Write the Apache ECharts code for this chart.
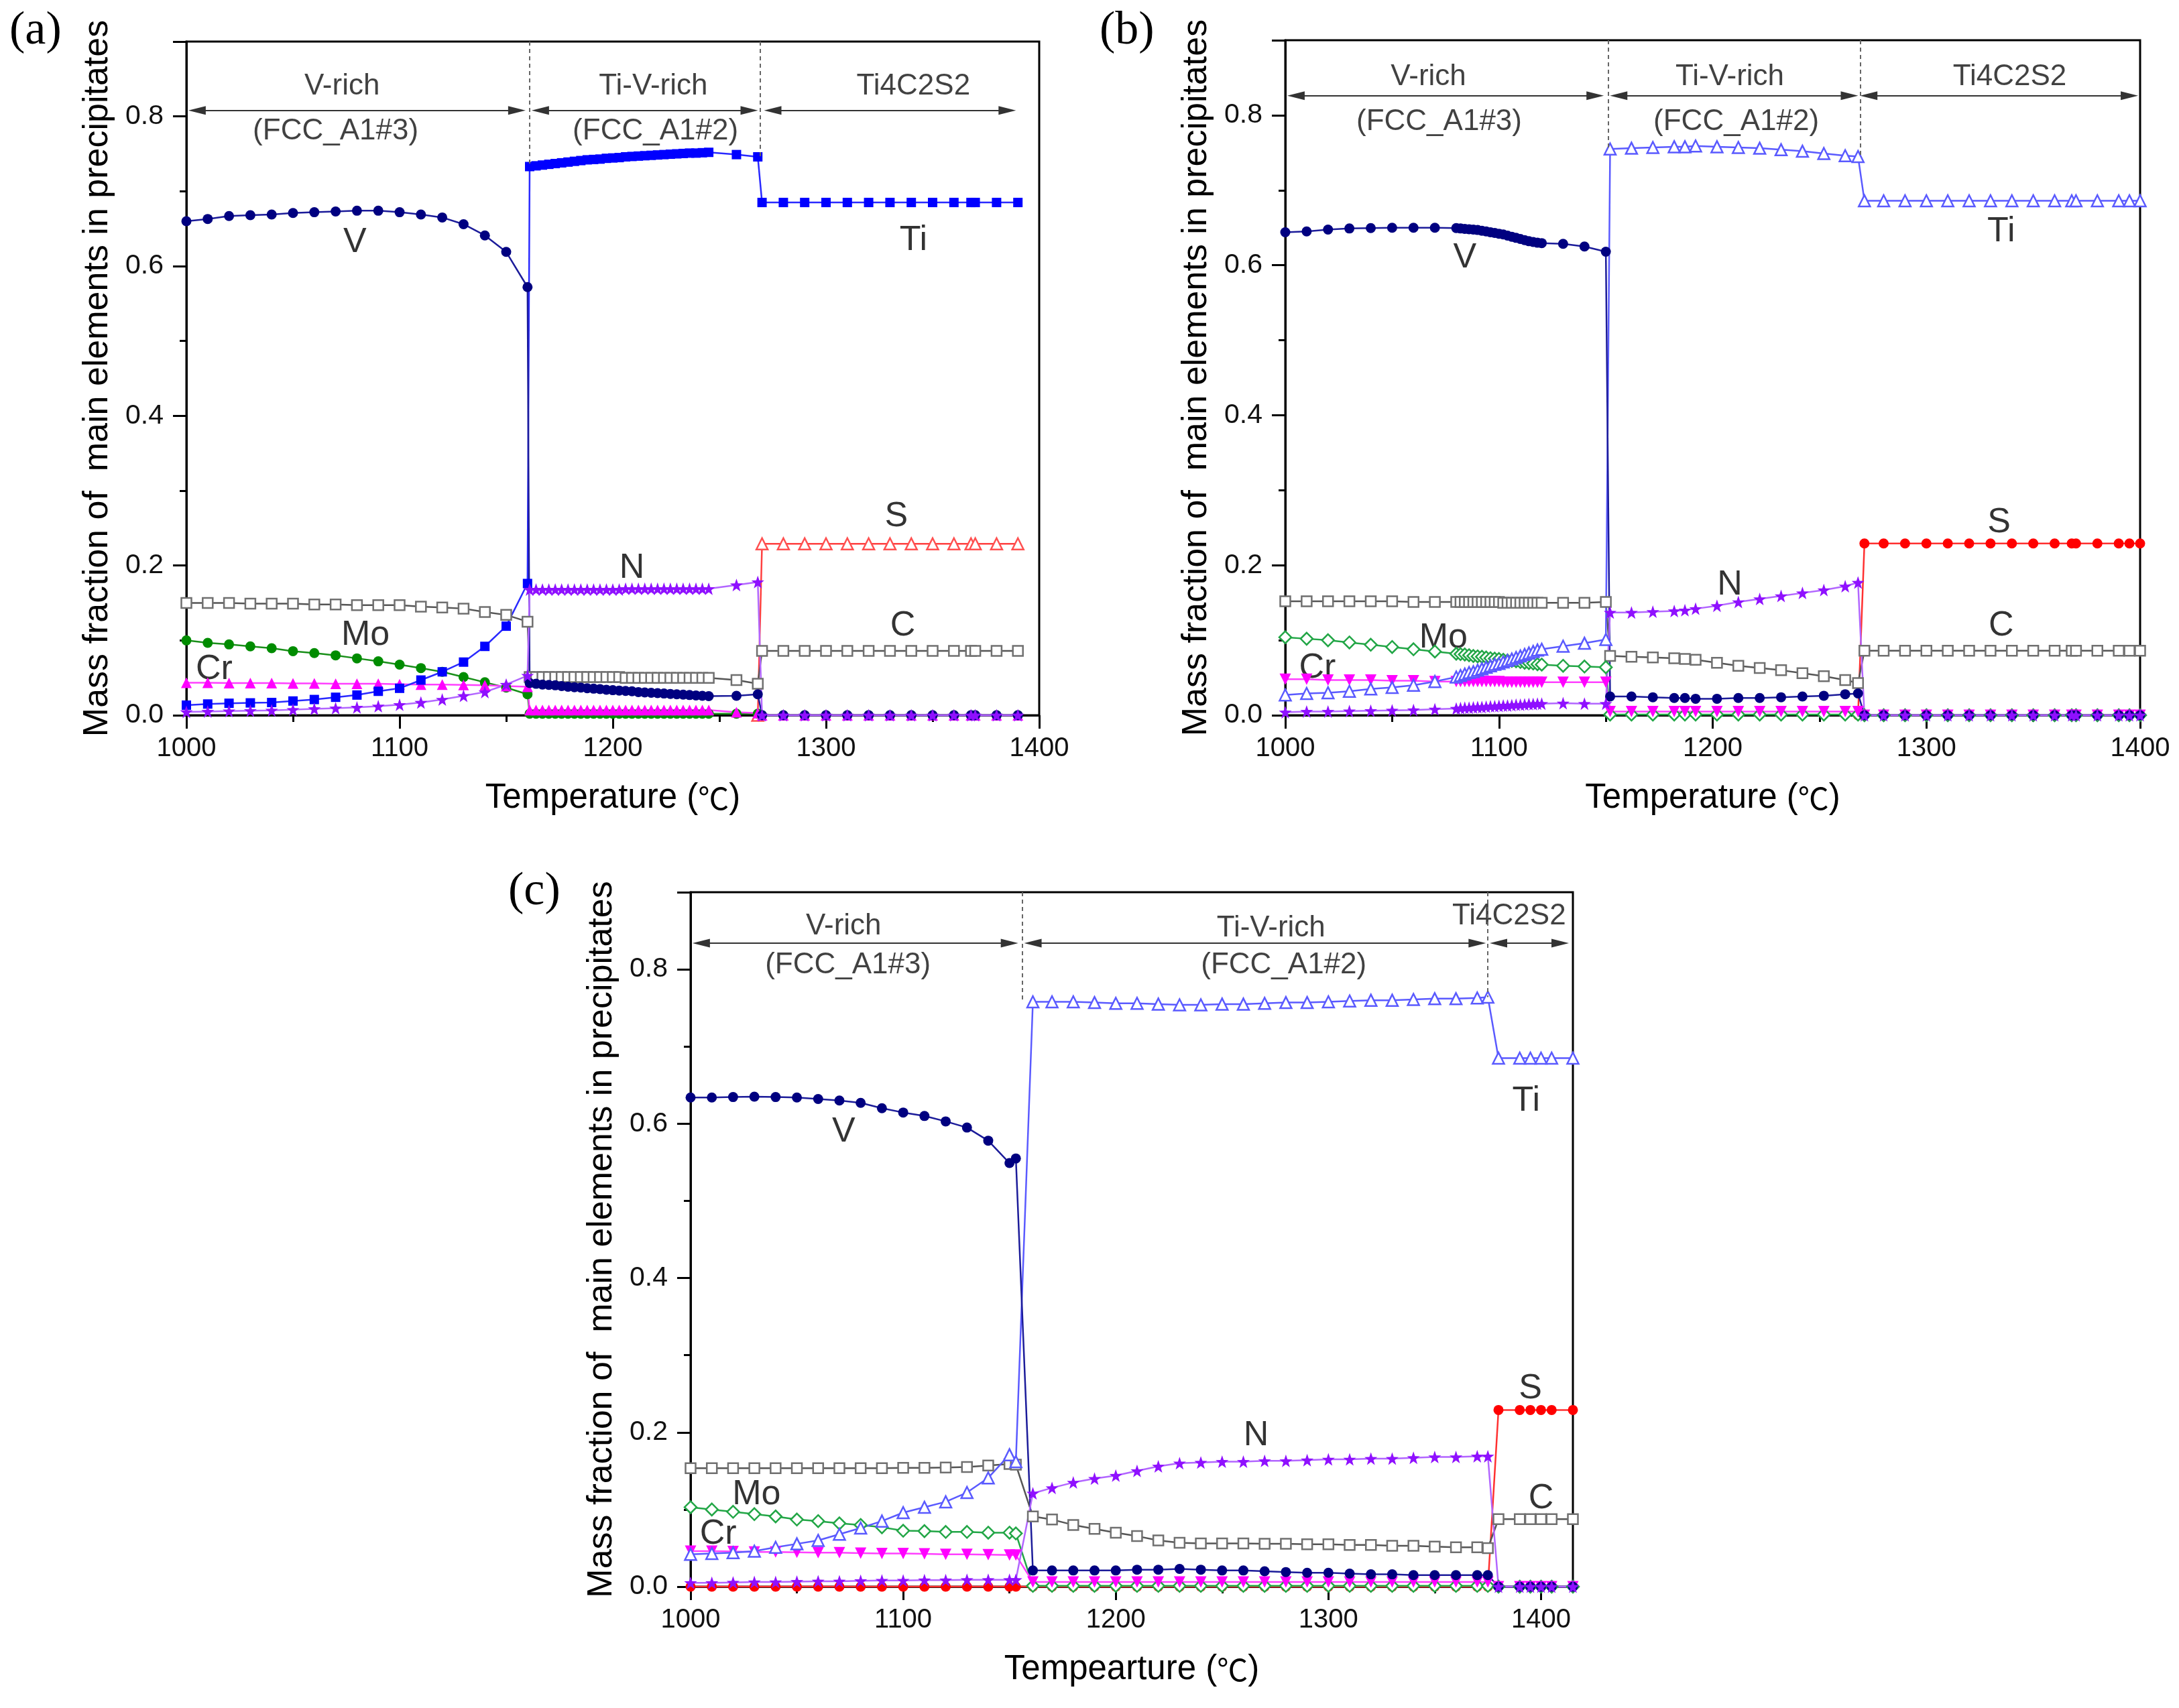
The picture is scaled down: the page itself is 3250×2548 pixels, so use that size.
<!DOCTYPE html>
<html>
<head>
<meta charset="utf-8">
<title>Mass fraction of main elements in precipitates</title>
<script src="https://cdn.jsdelivr.net/npm/echarts@6.0.0/dist/echarts.min.js"></script>
<style>
  html, body { margin: 0; padding: 0; background: #fff; }
  #chart { width: 3250px; height: 2548px; }
</style>
</head>
<body>
<div id="chart"></div>
<script>
// ---------- panel (a) ----------
var tempA = [1000,1010,1020,1030,1040,1050,1060,1070,1080,1090,1100,1110,1120,1130,1140,1150,1160,
  1161,1164,1167,1170,1173,1176,1179,1182,1185,1188,1191,1194,1197,1200,1203,1206,1209,1212,1215,1218,1221,1224,1227,1230,1233,1236,1239,1242,1245,
  1258,1268,
  1270,1280,1290,1300,1310,1320,1330,1340,1350,1360,1368,1370,1380,1390];
var vA = [0.660,0.663,0.667,0.668,0.669,0.671,0.672,0.673,0.674,0.674,0.672,0.669,0.665,0.656,0.641,0.619,0.572,
  0.043,0.042,0.041,0.0405,0.040,0.039,0.038,0.0375,0.037,0.036,0.0355,0.035,0.034,0.0335,0.033,0.0325,0.032,0.031,0.0305,0.030,0.0295,0.029,0.0285,0.028,0.0275,0.027,0.0265,0.026,0.0255,
  0.026,0.028,
  0,0,0,0,0,0,0,0,0,0,0,0,0,0];
var tiA = [0.0135,0.015,0.016,0.0165,0.017,0.019,0.021,0.024,0.027,0.032,0.036,0.047,0.058,0.071,0.092,0.119,0.176,
  0.733,0.734,0.735,0.736,0.737,0.738,0.739,0.740,0.741,0.742,0.7425,0.743,0.744,0.7445,0.745,0.746,0.7465,0.747,0.7475,0.748,0.7485,0.749,0.7495,0.750,0.7505,0.751,0.751,0.7515,0.752,
  0.749,0.746,
  0.685,0.685,0.685,0.685,0.685,0.685,0.685,0.685,0.685,0.685,0.685,0.685,0.685,0.685];
var nA = [0.0045,0.005,0.0055,0.006,0.0065,0.0075,0.0085,0.0095,0.0105,0.012,0.014,0.017,0.021,0.026,0.031,0.041,0.053,
  0.168,0.168,0.168,0.168,0.168,0.168,0.168,0.168,0.168,0.168,0.168,0.168,0.168,0.168,0.168,0.169,0.169,0.169,0.169,0.169,0.169,0.169,0.169,0.169,0.169,0.169,0.169,0.169,0.169,
  0.174,0.178,
  0,0,0,0,0,0,0,0,0,0,0,0,0,0];
var cA = [0.150,0.150,0.150,0.149,0.149,0.149,0.148,0.148,0.147,0.147,0.147,0.145,0.144,0.1425,0.138,0.134,0.125,
  0.051,0.051,0.051,0.051,0.051,0.051,0.051,0.051,0.051,0.051,0.051,0.051,0.051,0.051,0.051,0.050,0.050,0.050,0.050,0.050,0.050,0.050,0.050,0.050,0.050,0.050,0.050,0.050,0.050,
  0.047,0.042,
  0.086,0.086,0.086,0.086,0.086,0.086,0.086,0.086,0.086,0.086,0.086,0.086,0.086,0.086];
var moA = [0.100,0.0967,0.0946,0.092,0.0895,0.0856,0.083,0.080,0.076,0.072,0.0676,0.063,0.058,0.051,0.044,0.037,0.028,
  0.002,0.002,0.002,0.002,0.002,0.002,0.002,0.002,0.002,0.002,0.002,0.002,0.002,0.002,0.002,0.002,0.002,0.002,0.002,0.002,0.002,0.002,0.002,0.002,0.002,0.002,0.002,0.002,0.002,
  0.002,0.002,
  0,0,0,0,0,0,0,0,0,0,0,0,0,0];
var crA = [0.0435,0.0435,0.043,0.043,0.043,0.0425,0.0425,0.042,0.042,0.042,0.0415,0.041,0.041,0.0405,0.040,0.039,0.038,
  0.007,0.007,0.007,0.007,0.007,0.007,0.007,0.007,0.007,0.007,0.007,0.007,0.007,0.007,0.007,0.007,0.007,0.007,0.007,0.007,0.007,0.007,0.007,0.007,0.007,0.007,0.007,0.007,0.007,
  0.004,0.003,
  0,0,0,0,0,0,0,0,0,0,0,0,0,0];
var sA = [null,null,null,null,null,null,null,null,null,null,null,null,null,null,null,null,null,
  null,null,null,null,null,null,null,null,null,null,null,null,null,null,null,null,null,null,null,null,null,null,null,null,null,null,null,null,null,
  null,0,
  0.229,0.229,0.229,0.229,0.229,0.229,0.229,0.229,0.229,0.229,0.229,0.229,0.229,0.229];

// ---------- panel (b) ----------
var tempB = [1000,1010,1020,1030,1040,1050,1060,1070,1080,
  1082,1084,1086,1088,1090,1092,1094,1096,1098,1100,1102,1104,1106,1108,1110,1112,1114,1116,1118,1120,
  1130,1140,1150,
  1152,1162,1172,1182,1187,1192,1202,1212,1222,1232,1242,1252,1262,1268,
  1271,1280,1290,1300,1310,1320,1330,1340,1350,1360,1368,1370,1380,1390,1395,1400];
var vB = [0.644,0.645,0.6475,0.649,0.6495,0.650,0.650,0.650,0.6495,
  0.649,0.6485,0.648,0.6475,0.647,0.646,0.645,0.644,0.643,0.642,0.641,0.6395,0.638,0.6365,0.635,0.6335,0.632,0.631,0.630,0.6295,
  0.6285,0.625,0.618,
  0.025,0.025,0.024,0.023,0.023,0.022,0.022,0.023,0.023,0.024,0.025,0.026,0.028,0.029,
  0,0,0,0,0,0,0,0,0,0,0,0,0,0,0,0];
var tiB = [0.027,0.029,0.030,0.032,0.035,0.037,0.040,0.045,0.051,
  0.053,0.055,0.057,0.058,0.060,0.062,0.064,0.066,0.068,0.069,0.071,0.073,0.075,0.077,0.079,0.081,0.083,0.085,0.087,0.088,
  0.092,0.096,0.101,
  0.755,0.756,0.757,0.758,0.758,0.759,0.758,0.757,0.756,0.754,0.752,0.749,0.746,0.745,
  0.686,0.686,0.686,0.686,0.686,0.686,0.686,0.686,0.686,0.686,0.686,0.686,0.686,0.686,0.686,0.686];
var nB = [0.004,0.005,0.005,0.0055,0.006,0.0065,0.007,0.008,0.009,
  0.0095,0.010,0.010,0.0105,0.011,0.011,0.0115,0.012,0.012,0.0125,0.013,0.013,0.0135,0.014,0.014,0.0145,0.015,0.015,0.0155,0.0155,
  0.016,0.0155,0.0155,
  0.137,0.137,0.138,0.139,0.140,0.142,0.146,0.151,0.155,0.159,0.163,0.167,0.172,0.177,
  0,0,0,0,0,0,0,0,0,0,0,0,0,0,0,0];
var cB = [0.152,0.152,0.152,0.152,0.152,0.152,0.151,0.151,0.151,
  0.151,0.151,0.151,0.151,0.151,0.151,0.151,0.151,0.151,0.151,0.150,0.150,0.150,0.150,0.150,0.150,0.150,0.150,0.150,0.150,
  0.150,0.150,0.151,
  0.079,0.078,0.077,0.076,0.075,0.074,0.070,0.066,0.063,0.060,0.056,0.052,0.047,0.043,
  0.086,0.086,0.086,0.086,0.086,0.086,0.086,0.086,0.086,0.086,0.086,0.086,0.086,0.086,0.086,0.086];
var moB = [0.104,0.102,0.100,0.097,0.094,0.091,0.088,0.085,0.082,
  0.0815,0.081,0.080,0.079,0.0785,0.078,0.077,0.076,0.0755,0.075,0.074,0.073,0.0725,0.072,0.071,0.070,0.0695,0.069,0.068,0.0675,
  0.066,0.065,0.064,
  0.001,0.001,0.001,0.001,0.001,0.001,0.001,0.001,0.001,0.001,0.001,0.001,0.001,0.001,
  0,0,0,0,0,0,0,0,0,0,0,0,0,0,0,0];
var crB = [0.048,0.048,0.047,0.047,0.047,0.046,0.046,0.045,0.045,
  0.045,0.045,0.045,0.045,0.045,0.045,0.045,0.045,0.045,0.045,0.044,0.044,0.044,0.044,0.044,0.044,0.044,0.044,0.044,0.044,
  0.044,0.044,0.044,
  0.005,0.005,0.005,0.005,0.005,0.005,0.005,0.005,0.005,0.005,0.005,0.005,0.005,0.005,
  0,0,0,0,0,0,0,0,0,0,0,0,0,0,0,0];
var sB = [null,null,null,null,null,null,null,null,null,
  null,null,null,null,null,null,null,null,null,null,null,null,null,null,null,null,null,null,null,null,
  null,null,null,
  null,null,null,null,null,null,null,null,null,null,null,null,null,0,
  0.229,0.229,0.229,0.229,0.229,0.229,0.229,0.229,0.229,0.229,0.229,0.229,0.229,0.229,0.229,0.229];

// ---------- panel (c) ----------
var tempC = [1000,1010,1020,1030,1040,1050,1060,1070,1080,1090,1100,1110,1120,1130,1140,1150,1153,
  1161,1170,1180,1190,1200,1210,1220,1230,1240,1250,1260,1270,1280,1290,1300,1310,1320,1330,1340,1350,1360,1370,1375,
  1380,1390,1395,1400,1405,1415];
var vC = [0.634,0.634,0.6345,0.635,0.6345,0.634,0.632,0.630,0.627,0.620,0.6145,0.610,0.603,0.595,0.578,0.549,0.555,
  0.021,0.021,0.021,0.021,0.021,0.022,0.022,0.023,0.022,0.021,0.021,0.020,0.019,0.018,0.018,0.017,0.016,0.016,0.015,0.015,0.015,0.015,0.015,
  0,0,0,0,0,0];
var tiC = [0.042,0.043,0.044,0.046,0.051,0.0555,0.060,0.068,0.076,0.085,0.096,0.103,0.110,0.122,0.141,0.171,0.162,
  0.758,0.758,0.758,0.757,0.756,0.756,0.755,0.754,0.754,0.755,0.755,0.756,0.757,0.757,0.758,0.759,0.760,0.760,0.761,0.762,0.762,0.763,0.764,
  0.685,0.685,0.685,0.685,0.685,0.685];
var nC = [0.005,0.005,0.0055,0.006,0.006,0.0065,0.007,0.007,0.0075,0.008,0.008,0.0085,0.0085,0.009,0.009,0.009,0.009,
  0.121,0.128,0.135,0.140,0.144,0.150,0.156,0.160,0.161,0.162,0.162,0.163,0.163,0.164,0.165,0.165,0.166,0.166,0.167,0.168,0.168,0.169,0.169,
  0,0,0,0,0,0];
var cC = [0.1535,0.1535,0.1535,0.1535,0.1535,0.1535,0.1535,0.1535,0.1535,0.1535,0.154,0.154,0.1545,0.155,0.157,0.159,0.158,
  0.091,0.087,0.080,0.075,0.070,0.0655,0.060,0.057,0.056,0.056,0.056,0.0555,0.0555,0.055,0.055,0.054,0.054,0.053,0.053,0.052,0.051,0.051,0.050,
  0.0875,0.0875,0.0875,0.0875,0.0875,0.0875];
var moC = [0.103,0.100,0.097,0.094,0.091,0.087,0.085,0.082,0.080,0.077,0.0725,0.072,0.071,0.071,0.070,0.070,0.069,
  0.001,0.001,0.001,0.001,0.001,0.001,0.001,0.001,0.001,0.001,0.001,0.001,0.001,0.001,0.001,0.001,0.001,0.001,0.001,0.001,0.001,0.001,0.001,
  0,0,0,0,0,0];
var crC = [0.046,0.046,0.0455,0.045,0.045,0.0445,0.044,0.044,0.0435,0.043,0.043,0.0425,0.042,0.042,0.0415,0.041,0.041,
  0.006,0.006,0.006,0.006,0.006,0.006,0.006,0.006,0.006,0.006,0.006,0.006,0.006,0.006,0.006,0.006,0.006,0.006,0.006,0.006,0.006,0.006,0.006,
  0,0,0,0,0,0];
var sC = [0,0,0,0,0,0,0,0,0,0,0,0,0,0,0,0,0,
  0,0,0,0,0,0,0,0,0,0,0,0,0,0,0,0,0,0,0,0,0,0,0,
  0.229,0.229,0.229,0.229,0.229,0.229];

// ---------- ticks, titles, annotations ----------
var xMax = [1400, 1400, 1415];
var xMajorTicks = [1000, 1100, 1200, 1300, 1400];
var xMinorTicks = [1050, 1150, 1250, 1350];
var yMajorTicks = [0, 0.2, 0.4, 0.6, 0.8, 0.9];
var yLabelTicks = [0, 0.2, 0.4, 0.6, 0.8];
var yMinorTicks = [0.1, 0.3, 0.5, 0.7];
var yTitle = 'Mass fraction of  main elements in precipitates';
var xTitles = ['Temperature ({deg|\u2103})', 'Temperature ({deg|\u2103})', 'Tempearture ({deg|\u2103})'];
var panelLetters = ['(a)', '(b)', '(c)'];

var phaseTextA = [['V-rich', 1073, 0.840], ['(FCC_A1#3)', 1070, 0.780], ['Ti-V-rich', 1219, 0.840], ['(FCC_A1#2)', 1220, 0.780], ['Ti4C2S2', 1341, 0.840]];
var phaseTextB = [['V-rich', 1067, 0.851], ['(FCC_A1#3)', 1072, 0.791], ['Ti-V-rich', 1208, 0.851], ['(FCC_A1#2)', 1211, 0.791], ['Ti4C2S2', 1339, 0.851]];
var phaseTextC = [['V-rich', 1072, 0.856], ['(FCC_A1#3)', 1074, 0.805], ['Ti-V-rich', 1273, 0.853], ['(FCC_A1#2)', 1279, 0.805], ['Ti4C2S2', 1385, 0.869]];
var arrowsA = [[1001, 1159], [1162, 1268], [1271, 1389]], arrowYA = 0.808;
var arrowsB = [[1001, 1149], [1152, 1268], [1269, 1399]], arrowYB = 0.826;
var arrowsC = [[1001, 1154], [1157, 1374], [1376, 1413]], arrowYC = 0.834;
var dashA = [[1161, 0.733], [1269, 0.746]];
var dashB = [[1151, 0.755], [1269, 0.745]];
var dashC = [[1156, 0.758], [1375, 0.764]];
var elemA = [['V', 1079, 0.632], ['Ti', 1341, 0.634], ['S', 1333, 0.265], ['N', 1209, 0.196], ['C', 1336, 0.119], ['Mo', 1084, 0.107], ['Cr', 1013, 0.061]];
var elemB = [['V', 1084, 0.610], ['Ti', 1335, 0.645], ['S', 1334, 0.257], ['N', 1208, 0.174], ['C', 1335, 0.119], ['Mo', 1074, 0.103], ['Cr', 1015, 0.063]];
var elemC = [['V', 1072, 0.589], ['Ti', 1393, 0.629], ['S', 1395, 0.257], ['N', 1266, 0.196], ['C', 1400, 0.114], ['Mo', 1031, 0.119], ['Cr', 1013, 0.068]];

// ---------- layout / styles ----------
var FONT = '"Liberation Sans", Arial, Helvetica, "Noto Sans CJK SC", sans-serif';
var STAR = 'path://M0,-10L2.35,-3.24L9.51,-3.09L3.8,1.24L5.88,8.09L0,4L-5.88,8.09L-3.8,1.24L-9.51,-3.09L-2.35,-3.24Z';
var grids = [
  {left: 278, top: 62, width: 1272, height: 1005},
  {left: 1917, top: 60, width: 1275, height: 1007},
  {left: 1030, top: 1331, width: 1316, height: 1036}
];
var letterPos = [[14, 12], [1640, 12], [758, 1296]];

function pairs(t, v) {
  var out = [];
  for (var i = 0; i < t.length; i++) {
    if (v[i] !== null) out.push([t[i], v[i]]);
  }
  return out;
}

function lineSeries(p, name, temps, vals, st) {
  return {
    name: name, type: 'line', xAxisIndex: 2 * p, yAxisIndex: 2 * p,
    data: pairs(temps, vals),
    symbol: st.symbol, symbolSize: st.size, symbolRotate: st.rotate || 0,
    showSymbol: true, showAllSymbol: true, clip: false,
    animation: false, silent: true,
    lineStyle: {color: st.line, width: 2.5},
    itemStyle: st.hollow
      ? {color: '#ffffff', borderColor: st.color, borderWidth: 2.5}
      : {color: st.color, borderWidth: 0},
    emphasis: {disabled: true}
  };
}

var styleV = {symbol: 'circle', size: 15, color: '#000080', line: '#1c1c9a'};
var styleN = {symbol: STAR, size: 19, color: '#8f10ff', line: '#b266ff'};
var styleC = {symbol: 'rect', size: 15, color: '#707070', line: '#555555', hollow: true};
var stylesA = {
  Ti: {symbol: 'rect', size: 14, color: '#0000ff', line: '#2a2aff'},
  S: {symbol: 'triangle', size: 17, color: '#ff5050', line: '#ff4040', hollow: true},
  Mo: {symbol: 'circle', size: 15, color: '#008c00', line: '#1a8f1a'},
  Cr: {symbol: 'triangle', size: 16, color: '#ff00ff', line: '#ff40ff'}
};
var stylesBC = {
  Ti: {symbol: 'triangle', size: 17, color: '#5a5aff', line: '#5a5aff', hollow: true},
  S: {symbol: 'circle', size: 15, color: '#ff0000', line: '#ff3030'},
  Mo: {symbol: 'diamond', size: 18, color: '#22a646', line: '#22a646', hollow: true},
  Cr: {symbol: 'triangle', size: 17, color: '#ff00ff', line: '#ff40ff', rotate: 180}
};

var panels = [
  {t: tempA, V: vA, Ti: tiA, N: nA, C: cA, Mo: moA, Cr: crA, S: sA, st: stylesA,
   phase: phaseTextA, arrows: arrowsA, arrowY: arrowYA, dash: dashA, elem: elemA},
  {t: tempB, V: vB, Ti: tiB, N: nB, C: cB, Mo: moB, Cr: crB, S: sB, st: stylesBC,
   phase: phaseTextB, arrows: arrowsB, arrowY: arrowYB, dash: dashB, elem: elemB},
  {t: tempC, V: vC, Ti: tiC, N: nC, C: cC, Mo: moC, Cr: crC, S: sC, st: stylesBC,
   phase: phaseTextC, arrows: arrowsC, arrowY: arrowYC, dash: dashC, elem: elemC}
];

var xAxes = [], yAxes = [], series = [], graphics = [];

panels.forEach(function (pd, p) {
  xAxes.push({
    type: 'value', gridIndex: p, position: 'bottom', min: 1000, max: xMax[p], interval: 100,
    axisLine: {show: true, onZero: false, lineStyle: {color: '#000', width: 3}},
    axisTick: {show: true, inside: false, length: 20, customValues: xMajorTicks, lineStyle: {color: '#000', width: 3}},
    axisLabel: {customValues: xMajorTicks, margin: 30, color: '#111', fontSize: 40, fontFamily: FONT,
      formatter: function (v) { return v % 100 === 0 ? String(v) : ''; }},
    splitLine: {show: false},
    name: xTitles[p], nameLocation: 'middle', nameGap: 98,
    nameTextStyle: {color: '#000', fontSize: 51, fontFamily: FONT,
      rich: {deg: {fontSize: 46, fontFamily: '"Noto Sans CJK SC", sans-serif', color: '#000'}}}
  });
  xAxes.push({
    type: 'value', gridIndex: p, position: 'bottom', min: 1000, max: xMax[p], interval: 100,
    axisLine: {show: false, onZero: false},
    axisTick: {show: true, inside: false, length: 10, customValues: xMinorTicks, lineStyle: {color: '#000', width: 3}},
    axisLabel: {show: false}, splitLine: {show: false}
  });
  yAxes.push({
    type: 'value', gridIndex: p, position: 'left', min: 0, max: 0.9, interval: 0.2,
    axisLine: {show: true, onZero: false, lineStyle: {color: '#000', width: 3}},
    axisTick: {show: true, inside: false, length: 20, customValues: yMajorTicks, lineStyle: {color: '#000', width: 3}},
    axisLabel: {customValues: yLabelTicks, margin: 34, color: '#111', fontSize: 41, fontFamily: FONT,
      formatter: function (v) { return v > 0.85 ? '' : v.toFixed(1); }},
    splitLine: {show: false},
    name: yTitle, nameLocation: 'middle', nameGap: 106,
    nameTextStyle: {color: '#000', fontSize: 52, fontFamily: FONT}
  });
  yAxes.push({
    type: 'value', gridIndex: p, position: 'left', min: 0, max: 0.9, interval: 0.1,
    axisLine: {show: false, onZero: false},
    axisTick: {show: true, inside: false, length: 10, customValues: yMinorTicks, lineStyle: {color: '#000', width: 3}},
    axisLabel: {show: false}, splitLine: {show: false}
  });

  series.push(lineSeries(p, 'S', pd.t, pd.S, pd.st.S));
  series.push(lineSeries(p, 'C', pd.t, pd.C, styleC));
  series.push(lineSeries(p, 'Mo', pd.t, pd.Mo, pd.st.Mo));
  series.push(lineSeries(p, 'Cr', pd.t, pd.Cr, pd.st.Cr));
  series.push(lineSeries(p, 'Ti', pd.t, pd.Ti, pd.st.Ti));
  series.push(lineSeries(p, 'V', pd.t, pd.V, styleV));
  series.push(lineSeries(p, 'N', pd.t, pd.N, styleN));

  // phase names with double arrows
  var inset = 4;
  series.push({
    type: 'scatter', xAxisIndex: 2 * p, yAxisIndex: 2 * p, silent: true, animation: false,
    symbolSize: 1, itemStyle: {color: 'transparent'},
    data: pd.phase.map(function (d) { return {name: d[0], value: [d[1], d[2]]}; }),
    label: {show: true, position: 'inside', formatter: '{b}', color: '#111', fontSize: 44, fontFamily: FONT},
    markLine: {
      silent: true, animation: false, symbol: ['triangle', 'triangle'], symbolSize: [13, 26],
      label: {show: false}, lineStyle: {color: '#333', width: 2, type: 'solid'},
      itemStyle: {color: '#111'},
      data: pd.arrows.map(function (a) {
        return [{coord: [a[0] + inset, pd.arrowY]}, {coord: [a[1] - inset, pd.arrowY]}];
      })
    }
  });
  // element names with dashed phase boundaries
  series.push({
    type: 'scatter', xAxisIndex: 2 * p, yAxisIndex: 2 * p, silent: true, animation: false,
    symbolSize: 1, itemStyle: {color: 'transparent'},
    data: pd.elem.map(function (d) { return {name: d[0], value: [d[1], d[2]]}; }),
    label: {show: true, position: 'inside', formatter: '{b}', color: '#000', fontSize: 52, fontFamily: FONT},
    markLine: {
      silent: true, animation: false, symbol: ['none', 'none'],
      label: {show: false}, lineStyle: {color: '#666', width: 2, type: [6, 5]},
      data: pd.dash.map(function (d) { return [{coord: [d[0], 0.9]}, {coord: [d[0], d[1]]}]; })
    }
  });

  graphics.push({
    type: 'text', left: letterPos[p][0], top: letterPos[p][1], silent: true,
    style: {text: panelLetters[p], fontSize: 70, fontFamily: '"Liberation Serif", "Times New Roman", serif', fill: '#000'}
  });
});

var chart = echarts.init(document.getElementById('chart'), null, {renderer: 'canvas'});
chart.setOption({
  backgroundColor: '#ffffff',
  animation: false,
  grid: grids.map(function (g) {
    return {left: g.left, top: g.top, width: g.width, height: g.height,
      show: true, borderColor: '#000', borderWidth: 3, backgroundColor: 'transparent'};
  }),
  xAxis: xAxes,
  yAxis: yAxes,
  series: series,
  graphic: graphics
});
</script>
</body>
</html>
